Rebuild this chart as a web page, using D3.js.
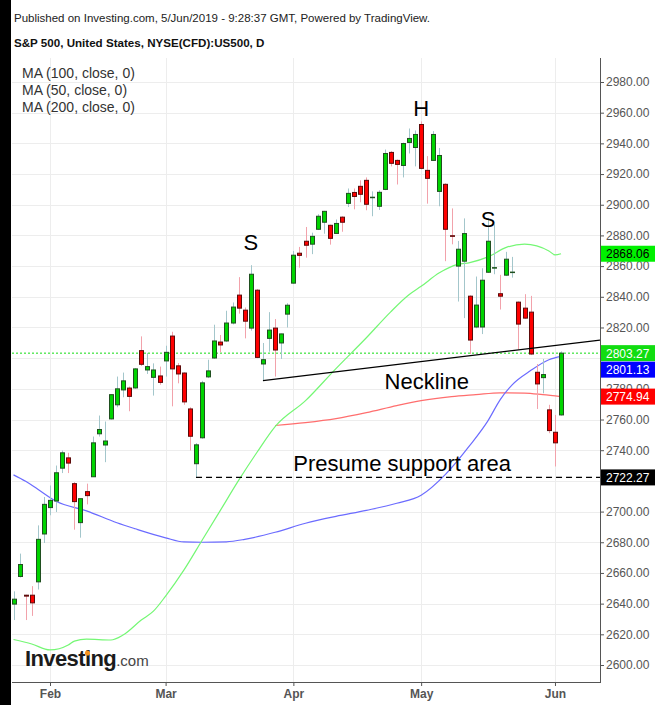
<!DOCTYPE html>
<html><head><meta charset="utf-8">
<script src="https://cdn.jsdelivr.net/npm/d3@7/dist/d3.min.js"></script>
<style>
body{margin:0;background:#fff;}
svg{display:block;font-family:"Liberation Sans",Arial,sans-serif;}
</style>
</head><body>
<svg id="chart" width="655" height="705"></svg>
<script>
// ---------------- DATA ----------------
const dates = [
"2019-01-24","2019-01-25","2019-01-28","2019-01-29","2019-01-30","2019-01-31",
"2019-02-01","2019-02-04","2019-02-05","2019-02-06","2019-02-07","2019-02-08","2019-02-11","2019-02-12","2019-02-13","2019-02-14","2019-02-15","2019-02-19","2019-02-20","2019-02-21","2019-02-22","2019-02-25","2019-02-26","2019-02-27","2019-02-28",
"2019-03-01","2019-03-04","2019-03-05","2019-03-06","2019-03-07","2019-03-08","2019-03-11","2019-03-12","2019-03-13","2019-03-14","2019-03-15","2019-03-18","2019-03-19","2019-03-20","2019-03-21","2019-03-22","2019-03-25","2019-03-26","2019-03-27","2019-03-28","2019-03-29",
"2019-04-01","2019-04-02","2019-04-03","2019-04-04","2019-04-05","2019-04-08","2019-04-09","2019-04-10","2019-04-11","2019-04-12","2019-04-15","2019-04-16","2019-04-17","2019-04-18","2019-04-22","2019-04-23","2019-04-24","2019-04-25","2019-04-26","2019-04-29","2019-04-30",
"2019-05-01","2019-05-02","2019-05-03","2019-05-06","2019-05-07","2019-05-08","2019-05-09","2019-05-10","2019-05-13","2019-05-14","2019-05-15","2019-05-16","2019-05-17","2019-05-20","2019-05-21","2019-05-22","2019-05-23","2019-05-24","2019-05-28","2019-05-29","2019-05-30","2019-05-31",
"2019-06-03","2019-06-04"];

const openP = [
2639.7,2657.7,2645.5,2645.5,2654.2,2685.4,
2702.6,2706.9,2728.3,2735.0,2718.2,2692.8,2713.0,2722.7,2750.7,2743.4,2760.4,2769.6,2779.3,2780.5,2780.6,2804.9,2792.3,2787.5,2788.4,
2798.2,2814.4,2795.0,2790.3,2766.9,2731.2,2748.1,2787.8,2800.1,2810.5,2811.2,2822.9,2841.1,2831.3,2819.6,2844.3,2796.2,2812.9,2819.6,2809.9,2828.7,
2848.9,2868.4,2876.2,2874.3,2884.0,2888.6,2886.6,2881.3,2891.9,2900.9,2908.0,2912.0,2915.9,2904.6,2899.0,2910.0,2934.1,2928.9,2925.6,2940.6,2937.3,
2952.3,2922.4,2928.9,2908.7,2913.3,2879.8,2860.0,2863.2,2840.4,2820.3,2820.3,2856.0,2858.7,2842.0,2854.1,2855.9,2836.5,2832.6,2830.0,2790.8,2787.3,2766.3,
2751.7,2763.0];
const highP = [
2648.0,2672.6,2645.8,2651.4,2691.0,2709.5,
2717.0,2730.0,2739.8,2738.3,2719.2,2708.4,2718.2,2748.9,2762.6,2758.7,2776.5,2788.0,2790.6,2781.5,2793.5,2814.2,2803.4,2796.6,2794.5,
2808.1,2817.2,2796.8,2790.8,2768.0,2744.6,2785.2,2799.0,2821.8,2815.1,2830.9,2836.3,2852.8,2833.0,2860.6,2845.0,2809.9,2830.0,2825.5,2816.0,2835.8,
2869.9,2872.5,2885.5,2881.8,2893.8,2896.0,2887.0,2890.4,2892.5,2910.6,2910.6,2915.9,2917.8,2908.7,2909.4,2936.0,2935.0,2929.5,2940.5,2949.7,2948.4,
2954.3,2931.7,2948.0,2937.0,2914.0,2897.6,2876.4,2891.1,2841.0,2853.2,2858.6,2891.4,2887.2,2854.3,2869.3,2866.0,2837.0,2841.7,2840.6,2796.2,2799.5,2769.6,
2763.0,2804.4];
const lowP = [
2629.3,2657.0,2629.3,2632.0,2649.2,2679.5,
2697.6,2699.7,2725.1,2725.1,2688.2,2683.0,2704.7,2722.7,2748.9,2732.2,2760.0,2768.0,2774.5,2765.4,2780.0,2794.9,2789.7,2775.6,2782.7,
2788.0,2768.6,2783.6,2769.6,2739.8,2722.3,2747.5,2787.0,2799.5,2803.8,2810.5,2822.0,2829.0,2812.9,2817.9,2800.0,2785.4,2804.2,2788.0,2799.5,2820.0,
2848.5,2859.0,2865.5,2867.8,2883.5,2881.1,2874.0,2881.0,2882.4,2898.5,2897.0,2901.6,2896.4,2892.5,2896.6,2909.5,2925.0,2913.2,2917.8,2933.4,2925.0,
2923.0,2900.7,2928.5,2899.0,2863.2,2874.2,2836.9,2826.1,2802.7,2819.5,2815.7,2855.5,2854.7,2831.7,2853.5,2852.5,2805.7,2825.5,2802.0,2766.9,2777.1,2751.1,
2729.4,2762.5];
const closeP = [
2642.9,2665.5,2644.9,2640.5,2681.9,2704.7,
2707.3,2725.3,2738.3,2731.6,2706.5,2708.4,2710.4,2744.8,2753.5,2746.0,2776.2,2780.0,2785.2,2775.1,2793.0,2796.0,2794.5,2792.3,2784.2,
2803.8,2793.0,2789.7,2771.5,2749.1,2743.5,2783.9,2791.7,2811.2,2808.6,2822.9,2833.3,2832.6,2824.1,2854.7,2800.5,2799.0,2818.3,2805.3,2815.8,2834.5,
2867.1,2867.0,2873.6,2879.4,2892.5,2895.7,2878.1,2887.8,2888.6,2907.4,2905.4,2906.8,2900.3,2904.9,2908.1,2933.4,2927.0,2926.3,2939.9,2943.2,2945.8,
2923.7,2917.2,2945.8,2932.1,2884.0,2879.4,2871.0,2881.2,2811.8,2834.6,2850.8,2876.2,2859.0,2840.4,2864.5,2856.1,2822.2,2826.1,2802.7,2783.2,2789.3,2752.8,
2744.8,2803.27];

const ma100Dates  = ["2019-01-24","2019-01-28","2019-01-30","2019-02-04","2019-02-11","2019-02-19","2019-02-22","2019-03-01","2019-03-06","2019-03-11","2019-03-15","2019-03-20","2019-03-27","2019-04-03","2019-04-10","2019-04-17","2019-04-25","2019-05-01","2019-05-07","2019-05-13","2019-05-16","2019-05-20","2019-05-22","2019-05-28","2019-05-31","2019-06-04"];
const ma100Values = [2723.9,2719.7,2714.5,2706.7,2700.5,2692.7,2688.8,2682.9,2680.2,2680.0,2680.3,2681.9,2686.5,2692.4,2696.9,2700.8,2705.4,2710.6,2724.2,2743.1,2759.3,2773.0,2782.8,2791.9,2799.0,2801.13];

const ma50Dates  = ["2019-01-24","2019-01-29","2019-02-01","2019-02-06","2019-02-07","2019-02-11","2019-02-15","2019-02-20","2019-02-25","2019-02-27","2019-03-01","2019-03-06","2019-03-11","2019-03-14","2019-03-19","2019-03-22","2019-03-27","2019-04-03","2019-04-10","2019-04-17","2019-04-24","2019-04-29","2019-05-01","2019-05-06","2019-05-09","2019-05-13","2019-05-16","2019-05-21","2019-05-24","2019-05-29","2019-05-31","2019-06-03","2019-06-04"];
const ma50Values = [2616.6,2613.7,2609.8,2613.0,2615.6,2616.9,2616.3,2619.5,2629.3,2635.1,2644.9,2661.8,2681.3,2700.8,2720.3,2738.5,2755.4,2772.3,2793.2,2813.3,2830.2,2841.3,2846.8,2855.6,2861.1,2862.3,2866.0,2872.2,2874.3,2873.2,2869.9,2867.3,2868.06];

const ma200Dates  = ["2019-03-27","2019-04-03","2019-04-10","2019-04-17","2019-04-25","2019-05-01","2019-05-08","2019-05-14","2019-05-20","2019-05-24","2019-05-30","2019-06-04"];
const ma200Values = [2756.1,2758.0,2760.6,2764.5,2769.1,2772.3,2774.9,2776.2,2777.4,2777.2,2776.2,2774.94];

const priceTicks = [2600,2620,2640,2660,2680,2700,2720,2740,2760,2780,2800,2820,2840,2860,2880,2900,2920,2940,2960,2980];
const monthTickDates = ["2019-02-01","2019-03-01","2019-04-01","2019-05-01","2019-06-03"];
const monthLabels = ["Feb","Mar","Apr","May","Jun"];

const necklineDates = ["2019-03-25","2019-05-28"];
const necklineValues = [2785.4,2806.3];
const supportStart = "2019-03-08";
const supportValue = 2722.27;
const lastClose = 2803.27;

const annotations = [
  {text:"S", date:"2019-03-21", value:2870.6, anchor:"middle"},
  {text:"H", date:"2019-05-01", value:2957.7, anchor:"middle"},
  {text:"S", date:"2019-05-16", value:2885.2, anchor:"middle"},
  {text:"Neckline", date:"2019-04-23", value:2780.2, anchor:"start"},
  {text:"Presume support area", date:"2019-04-01", value:2726.2, anchor:"start"}
];
const legendItems = ["MA (100, close, 0)","MA (50, close, 0)","MA (200, close, 0)"];

// ---------------- CHART ----------------
const svg = d3.select("#chart");
const P = {l:12, r:600, t:58, b:682};
const di = new Map(dates.map((d,i)=>[d,i]));
const x = d3.scaleLinear().domain([0, dates.length-1]).range([13.5, 561.06]);
const y = d3.scaleLinear().domain([2600, 2980]).range([665, 82]);

svg.append("rect").attr("width",655).attr("height",705).attr("fill","#fff");

// grid
const grid = svg.append("g");
grid.selectAll(".hg").data(priceTicks).join("line")
  .attr("x1",P.l).attr("x2",P.r).attr("y1",d=>Math.round(y(d))+0.5).attr("y2",d=>Math.round(y(d))+0.5)
  .attr("stroke","#ededed").attr("stroke-width",1);
grid.selectAll(".vg").data(monthTickDates).join("line")
  .attr("x1",d=>Math.round(x(di.get(d)))+0.5).attr("x2",d=>Math.round(x(di.get(d)))+0.5)
  .attr("y1",P.t).attr("y2",P.b)
  .attr("stroke","#ededed").attr("stroke-width",1);

svg.append("clipPath").attr("id","clip").append("rect")
  .attr("x",P.l).attr("y",P.t).attr("width",P.r-P.l).attr("height",P.b-P.t);
const g = svg.append("g").attr("clip-path","url(#clip)");

// last close dotted line
g.append("line").attr("x1",P.l).attr("x2",P.r)
  .attr("y1",y(lastClose)).attr("y2",y(lastClose))
  .attr("stroke","#11dd11").attr("stroke-width",1).attr("stroke-dasharray","2,2");

// moving averages
const maLine = d3.line().x(d=>x(di.get(d[0]))).y(d=>y(d[1])).curve(d3.curveMonotoneX);
const mas = [
  {dates:ma200Dates, values:ma200Values, color:"#ff6e6e"},
  {dates:ma100Dates, values:ma100Values, color:"#6b6bff"},
  {dates:ma50Dates,  values:ma50Values,  color:"#74f774"}
];
mas.forEach(m=>{
  g.append("path").datum(m.dates.map((d,i)=>[d,m.values[i]]))
   .attr("d",maLine).attr("fill","none").attr("stroke",m.color).attr("stroke-width",1.2);
});

// candles
const candles = dates.map((d,i)=>({d,i,o:openP[i],h:highP[i],l:lowP[i],c:closeP[i]}));
const cg = g.append("g");
cg.selectAll(".wick").data(candles).join("line")
  .attr("x1",d=>Math.round(x(d.i))+0.5).attr("x2",d=>Math.round(x(d.i))+0.5)
  .attr("y1",d=>y(d.h)).attr("y2",d=>y(d.l))
  .attr("stroke",d=>d.c>=d.o?"#a3c6cb":"#f2a2ab").attr("stroke-width",1);
cg.selectAll(".body").data(candles).join("rect")
  .attr("x",d=>Math.round(x(d.i))-1.5).attr("width",4)
  .attr("y",d=>y(Math.max(d.o,d.c)))
  .attr("height",d=>Math.max(0.5, Math.abs(y(d.o)-y(d.c))))
  .attr("fill",d=>d.c>=d.o?"#00d400":"#ff0000")
  .attr("stroke",d=>d.c>=d.o?"#1f4f1f":"#5c0a0a").attr("stroke-width",1);

// neckline (extended to the right edge)
const n0 = [x(di.get(necklineDates[0])), y(necklineValues[0])];
const n1 = [x(di.get(necklineDates[1])), y(necklineValues[1])];
const slope = (n1[1]-n0[1])/(n1[0]-n0[0]);
g.append("line").attr("x1",n0[0]).attr("y1",n0[1])
  .attr("x2",P.r).attr("y2",n0[1]+slope*(P.r-n0[0]))
  .attr("stroke","#000").attr("stroke-width",1.2);

// support dashed line
g.append("line").attr("x1",x(di.get(supportStart))).attr("x2",P.r)
  .attr("y1",y(supportValue)).attr("y2",y(supportValue))
  .attr("stroke","#000").attr("stroke-width",1.2).attr("stroke-dasharray","6,4");

// annotations
svg.append("g").selectAll("text").data(annotations).join("text")
  .attr("x",d=>x(di.get(d.date))).attr("y",d=>y(d.value))
  .attr("text-anchor",d=>d.anchor)
  .attr("font-size",22).attr("fill","#000").text(d=>d.text);

// axis value labels (computed first so covered tick labels can be skipped)
const tags = [
  {v:ma50Values[ma50Values.length-1], bg:"#00f000", fg:"#000"},
  {v:lastClose, bg:"#11dd11", fg:"#fff"},
  {v:ma100Values[ma100Values.length-1], bg:"#0000ff", fg:"#fff"},
  {v:ma200Values[ma200Values.length-1], bg:"#ff0000", fg:"#fff"},
  {v:supportValue, bg:"#000", fg:"#fff"}
].map(t=>({...t, y:y(t.v)})).sort((a,b)=>a.y-b.y);
for(let i=1;i<tags.length;i++){ if(tags[i].y-tags[i-1].y<16.5) tags[i].y=tags[i-1].y+16.5; }

// right axis
const ya = svg.append("g").attr("transform",`translate(${P.r},0)`)
  .call(d3.axisRight(y).tickValues(priceTicks).tickFormat(d3.format(".2f")).tickSize(4).tickPadding(2).tickSizeOuter(0));
ya.select(".domain").remove();
ya.selectAll("line").attr("stroke","#555");
ya.selectAll("text").attr("fill","#555").attr("font-size",12).attr("font-family","Liberation Sans, Arial, sans-serif");
ya.selectAll(".tick").filter(d=>tags.some(t=>Math.abs(t.y-y(d))<6.5)).select("text").remove();
svg.append("line").attr("x1",P.r+0.5).attr("x2",P.r+0.5).attr("y1",P.t).attr("y2",P.b)
  .attr("stroke","#555").attr("stroke-width",1);

// bottom axis
const xa = svg.append("g").attr("transform",`translate(0,${P.b})`)
  .call(d3.axisBottom(x).tickValues(monthTickDates.map(d=>di.get(d)))
    .tickFormat((d,i)=>monthLabels[i]).tickSize(4).tickPadding(3).tickSizeOuter(0));
xa.select(".domain").remove();
xa.selectAll("line").attr("stroke","#555");
xa.selectAll("text").attr("fill","#555").attr("font-size",12).attr("font-weight","bold")
  .attr("font-family","Liberation Sans, Arial, sans-serif");
svg.append("line").attr("x1",P.l).attr("x2",P.r+1).attr("y1",P.b+0.5).attr("y2",P.b+0.5)
  .attr("stroke","#555").attr("stroke-width",1);

const tg = svg.append("g").selectAll("g").data(tags).join("g")
  .attr("transform",d=>`translate(${P.r+1},${d.y})`);
tg.append("rect").attr("x",0).attr("y",-8).attr("width",54).attr("height",16).attr("fill",d=>d.bg);
tg.append("text").attr("x",5).attr("y",4.5).attr("font-size",12).attr("fill",d=>d.fg)
  .text(d=>d3.format(".2f")(d.v));

// header
svg.append("text").attr("x",14).attr("y",22).attr("font-size",11.5).attr("fill","#222")
  .text("Published on Investing.com, 5/Jun/2019 - 9:28:37 GMT, Powered by TradingView.");
svg.append("text").attr("x",14).attr("y",47).attr("font-size",11.6).attr("font-weight","bold").attr("fill","#111")
  .text("S&P 500, United States, NYSE(CFD):US500, D");

// legend
svg.append("g").selectAll("text").data(legendItems).join("text")
  .attr("x",22).attr("y",(d,i)=>78+i*17).attr("font-size",14).attr("fill","#333").text(d=>d);

// logo
const logo = svg.append("text").attr("x",25).attr("y",666).attr("fill","#1b1b1b");
logo.append("tspan").attr("font-size",22).attr("font-weight","bold").attr("letter-spacing","-0.6").text("Investing");
logo.append("tspan").attr("font-size",15).attr("fill","#444").text(".com");
try{
  const b = logo.node().getExtentOfChar(6);
  svg.append("circle").attr("cx",b.x+b.width/2-0.3).attr("cy",b.y+b.height*0.28).attr("r",2.6).attr("fill","#f7931e");
}catch(e){}

// left black strip
svg.append("rect").attr("x",0).attr("y",0).attr("width",11).attr("height",705).attr("fill","#000");
</script>
</body></html>
